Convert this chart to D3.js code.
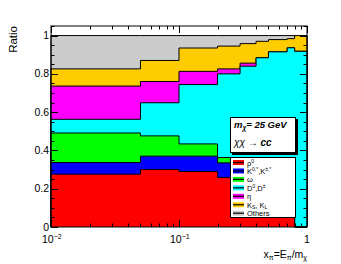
<!DOCTYPE html>
<html>
<head>
<meta charset="utf-8">
<script src="https://cdn.jsdelivr.net/npm/d3@7"></script>
<style>
  body { margin: 0; background: #fff; }
  text { font-family: "Liberation Sans", Arial, sans-serif; fill: #000; }
</style>
</head>
<body>
<div id="chart"></div>
<script>
// bin edges in x_pi
var edges = [0.01, 0.05, 0.1, 0.2, 0.3, 0.4, 0.5, 0.7, 0.8, 1]

// fraction of each species per bin (stacked bottom -> top)
var rho0 = [0.276, 0.300, 0.290, 0.259, 0.24, 0.22, 0.20, 0.15, 0]
var kstar = [0.061, 0.070, 0.080, 0.076, 0.07, 0.065, 0.06, 0.04, 0]
var omega = [0.154, 0.106, 0.064, 0.028, 0.02, 0.015, 0.01, 0.005, 0]
var dmes = [0.0715, 0.173, 0.310, 0.437, 0.51, 0.584, 0.645, 0.741, 0.918]
var eta = [0.1735, 0.111, 0.069, 0.026, 0.016, 0, 0, 0, 0]
var kshort = [0.090, 0.110, 0.122, 0.119, 0.102, 0.086, 0.064, 0.048, 0.082]
var others = [0.174, 0.130, 0.065, 0.055, 0.042, 0.030, 0.021, 0.016, 0]

var species = [
    { key: "rho", values: rho0, color: "#ff0000" },
    { key: "kstar", values: kstar, color: "#0000ff" },
    { key: "omega", values: omega, color: "#00ff00" },
    { key: "d", values: dmes, color: "#00ffff" },
    { key: "eta", values: eta, color: "#ff00ff" },
    { key: "k0", values: kshort, color: "#ffcc00" },
    { key: "others", values: others, color: "#cccccc" }
]

var yTicks = [0, 0.2, 0.4, 0.6, 0.8, 1]

var width = 341, height = 264
var padL = 51, padR = 307, padT = 26, padB = 227

const svg = d3.select("#chart")
    .append("svg")
    .attr("width", width)
    .attr("height", height)

var x = d3.scaleLog().domain([0.01, 1]).range([padL, padR])
var y = d3.scaleLinear().domain([0, 1.05]).range([padB, padT])

// cumulative stacks
var cum = edges.slice(0, -1).map(() => 0)
var stacks = species.map(s => {
    cum = cum.map((c, i) => c + s.values[i])
    return { key: s.key, color: s.color, tops: cum.slice() }
})

function stepPath(tops) {
    var pts = [[x(edges[0]), y(0)]]
    tops.forEach((t, i) => {
        pts.push([x(edges[i]), y(t)])
        pts.push([x(edges[i + 1]), y(t)])
    })
    pts.push([x(edges[edges.length - 1]), y(0)])
    return d3.line()(pts)
}

// draw top of stack first so lower species cover it
svg.append("g")
    .selectAll("path")
    .data(stacks.slice().reverse())
    .enter()
    .append("path")
    .attr("d", d => stepPath(d.tops))
    .style("fill", d => d.color)
    .style("stroke", "#000")
    .style("stroke-width", 1)

// frame
svg.append("rect")
    .attr("x", padL).attr("y", padT)
    .attr("width", padR - padL).attr("height", padB - padT)
    .style("fill", "none").style("stroke", "#000").style("stroke-width", 1)

var ticks = svg.append("g").style("stroke", "#000").style("stroke-width", 1)

// y ticks, both sides
for (var v = 0; v <= 1.0501; v += 0.05) {
    var major = Math.abs(v * 5 - Math.round(v * 5)) < 1e-6
    var len = major ? 7 : 3.5
    var yy = Math.round(y(v)) + 0.5
    ticks.append("line").attr("x1", padL).attr("x2", padL + len).attr("y1", yy).attr("y2", yy)
    ticks.append("line").attr("x1", padR).attr("x2", padR - len).attr("y1", yy).attr("y2", yy)
}

// x ticks on log axis, bottom and top
var xt = []
;[0.01, 0.1].forEach(dec => {
    for (var k = 1; k < 10; k++) xt.push({ v: dec * k, major: k === 1 })
})
xt.push({ v: 1, major: true })
xt.forEach(t => {
    var xx = Math.round(x(t.v)) + 0.5
    var len = t.major ? 7 : 3.5
    ticks.append("line").attr("x1", xx).attr("x2", xx).attr("y1", padB).attr("y2", padB - len)
    ticks.append("line").attr("x1", xx).attr("x2", xx).attr("y1", padT).attr("y2", padT + len)
})

// y tick labels
svg.append("g")
    .selectAll("text")
    .data(yTicks)
    .enter()
    .append("text")
    .attr("x", padL - 2)
    .attr("y", d => y(d) + 3.5)
    .attr("text-anchor", "end")
    .style("font-size", "10.5px")
    .text(d => d === 0 || d === 1 ? String(d) : d.toFixed(1))

// x tick labels
var xl = svg.append("g").style("font-size", "10.5px")
;[[0.01, "2"], [0.1, "1"]].forEach(p => {
    var t = xl.append("text").attr("x", x(p[0]) - 9).attr("y", 243)
    t.append("tspan").text("10")
    t.append("tspan").attr("dy", -4).style("font-size", "7px").text("\u2212" + p[1])
})
xl.append("text").attr("x", x(1)).attr("y", 243).attr("text-anchor", "middle").text("1")

// axis titles
var xtitle = svg.append("text")
    .attr("x", padR)
    .attr("y", 258)
    .attr("text-anchor", "end")
    .style("font-size", "10.5px")
xtitle.append("tspan").text("x")
xtitle.append("tspan").attr("dy", 2).style("font-size", "7px").text("\u03c0")
xtitle.append("tspan").attr("dy", -2).text("=E")
xtitle.append("tspan").attr("dy", 2).style("font-size", "7px").text("\u03c0")
xtitle.append("tspan").attr("dy", -2).text("/m")
xtitle.append("tspan").attr("dy", 2).style("font-size", "7px").text("\u03c7")

svg.append("text")
    .attr("transform", "translate(17," + padT + ") rotate(-90)")
    .attr("text-anchor", "end")
    .style("font-size", "11.5px")
    .text("Ratio")

// info box with shadow
svg.append("rect").attr("x", 232).attr("y", 119).attr("width", 66).attr("height", 36).style("fill", "#000")
svg.append("rect").attr("x", 230.5).attr("y", 117.5).attr("width", 65).attr("height", 35)
    .style("fill", "#fff").style("stroke", "#000").style("stroke-width", 1)
var t1 = svg.append("text").attr("x", 234).attr("y", 127.5)
    .style("font-size", "9.5px").style("font-weight", "bold").style("font-style", "italic")
t1.append("tspan").text("m")
t1.append("tspan").attr("dy", 2).style("font-size", "6.5px").text("\u03c7")
t1.append("tspan").attr("dy", -2).text("= 25 GeV")
var t2 = svg.append("text").attr("x", 234).attr("y", 146).style("font-size", "10px")
t2.append("tspan").style("font-style", "italic").text("\u03c7\u03c7")
t2.append("tspan").text(" \u2192 ")
t2.append("tspan").style("font-weight", "bold").style("font-style", "italic").text("cc")

// legend
var legendRows = [
    { color: "#ff0000", parts: [["\u03c1", 0], ["0", -1]] },
    { color: "#0000ff", parts: [["K", 0], ["0,*", -1], [",K", 0], ["\u00b1,*", -1]] },
    { color: "#00ff00", parts: [["\u03c9", 0]] },
    { color: "#00ffff", parts: [["D", 0], ["0", -1], [",D", 0], ["\u00b1", -1]] },
    { color: "#ff00ff", parts: [["\u03b7", 0]] },
    { color: "#ffcc00", parts: [["K", 0], ["S", 1], [", K", 0], ["L", 1]] },
    { color: "#cccccc", parts: [["Others", 0]] }
]
svg.append("rect").attr("x", 230.5).attr("y", 157.5).attr("width", 65).attr("height", 60)
    .style("fill", "#fff").style("stroke", "#000").style("stroke-width", 1)
var lg = svg.append("g")
legendRows.forEach((r, i) => {
    var cy = 162.5 + i * 8.45
    lg.append("rect").attr("x", 233).attr("y", cy - 2.5).attr("width", 11).attr("height", 5)
        .style("fill", r.color)
    lg.append("line").attr("x1", 233).attr("x2", 244).attr("y1", cy).attr("y2", cy)
        .style("stroke", "#000").style("stroke-width", 1.2)
    var t = lg.append("text").attr("x", 247).attr("y", cy + 3).style("font-size", "7.5px")
    var shift = 0
    r.parts.forEach(p => {
        var target = p[1] > 0 ? 1.5 : p[1] * 3
        var ts = t.append("tspan").attr("dy", target - shift).text(p[0])
        if (p[1] !== 0) ts.style("font-size", "5px")
        shift = target
    })
})
</script>
</body>
</html>
